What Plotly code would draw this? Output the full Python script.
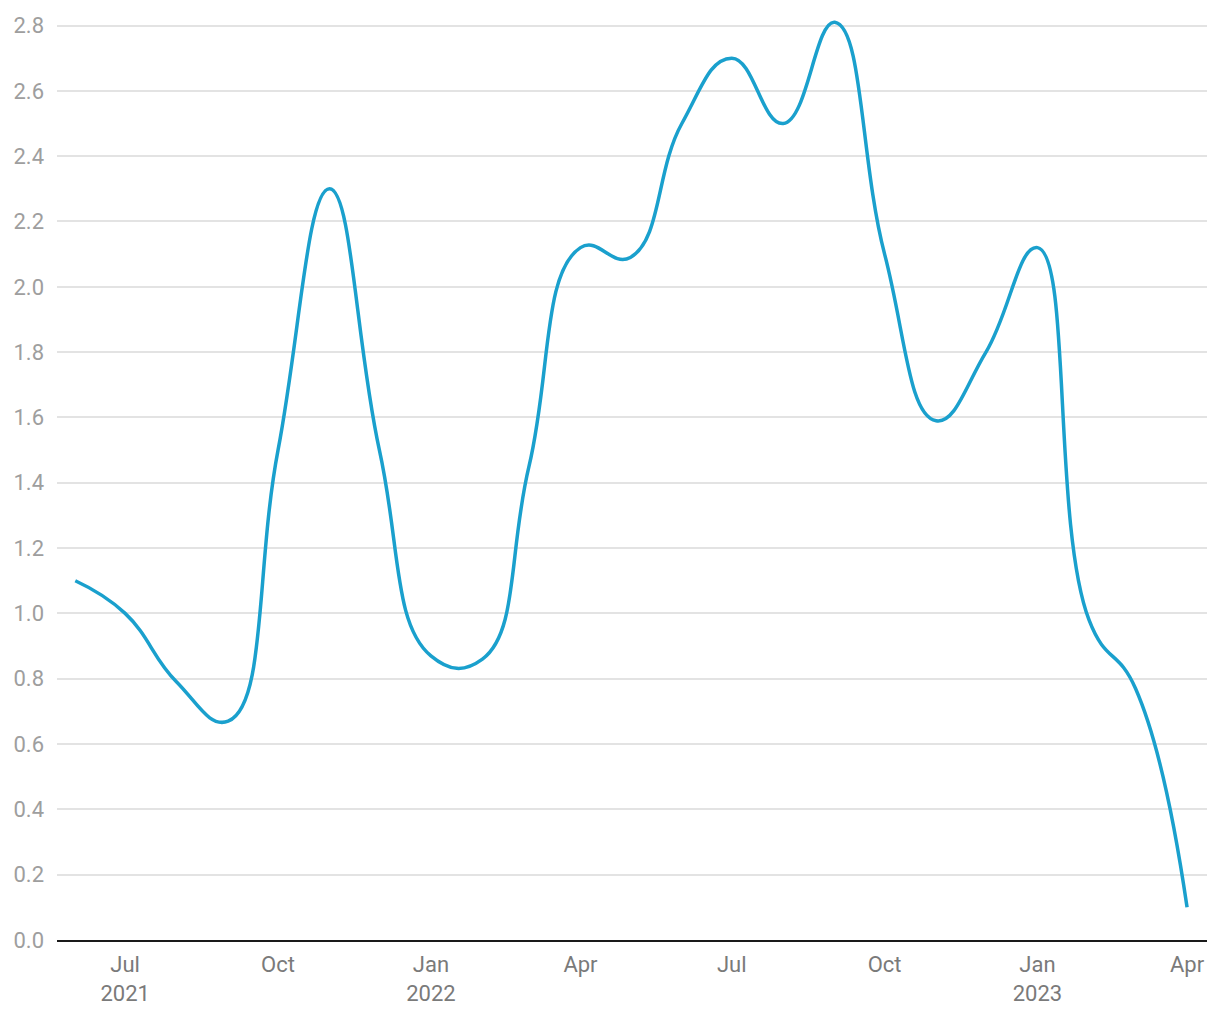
import plotly.graph_objects as go

dates = [
    "2021-06-01", "2021-07-01", "2021-08-01", "2021-09-01", "2021-10-01",
    "2021-11-01", "2021-12-01", "2022-01-01", "2022-02-01", "2022-03-01",
    "2022-04-01", "2022-05-01", "2022-06-01", "2022-07-01", "2022-08-01",
    "2022-09-01", "2022-10-01", "2022-11-01", "2022-12-01", "2023-01-01",
    "2023-02-01", "2023-03-01", "2023-04-01",
]
values = [
    1.10, 1.00, 0.79, 0.67, 1.50,
    2.30, 1.50, 0.87, 0.86, 1.45,
    2.12, 2.09, 2.50, 2.70, 2.50,
    2.81, 2.10, 1.59, 1.80, 2.12,
    0.98, 0.77, 0.10,
]
y_ticks = [0, 0.2, 0.4, 0.6, 0.8, 1.0, 1.2, 1.4, 1.6, 1.8, 2.0, 2.2, 2.4, 2.6, 2.8]

LINE_COLOR = "#1aa0cd"
FONT = "Roboto"

fig = go.Figure()
fig.add_trace(
    go.Scatter(
        x=dates,
        y=values,
        mode="lines",
        line=dict(color=LINE_COLOR, width=3.5, shape="spline", smoothing=1.3),
        showlegend=False,
    )
)

# the page adds an 8px body margin, so the figure is sized to sit inside it;
# y range runs a little past 2.8 so the top peak is not clipped
fig.update_layout(
    width=1204,
    height=1004,
    margin=dict(l=48, r=5, t=8, b=72),
    paper_bgcolor="white",
    plot_bgcolor="white",
    font=dict(family=FONT, size=22, color="#9a9a9a"),
    showlegend=False,
)
fig.update_xaxes(
    type="date",
    range=["2021-05-21", "2023-04-13"],
    dtick="M3",
    tick0="2021-07-01",
    tickformat="%b\n%Y",
    showgrid=False,
    showline=True,
    linecolor="#1a1a1a",
    linewidth=2,
    ticks="",
    tickfont=dict(family=FONT, size=22, color="#7a7a7a"),
    ticklabelstandoff=4,
    zeroline=False,
)
fig.update_yaxes(
    range=[0, 2.82],
    tickmode="array",
    tickvals=y_ticks,
    tickformat=".1f",
    showgrid=True,
    gridcolor="#e3e3e3",
    gridwidth=1.5,
    zeroline=False,
    showline=False,
    ticks="",
    tickfont=dict(family=FONT, size=22, color="#9e9e9e"),
    ticklabelstandoff=12,
)

fig.write_html("out.html")
